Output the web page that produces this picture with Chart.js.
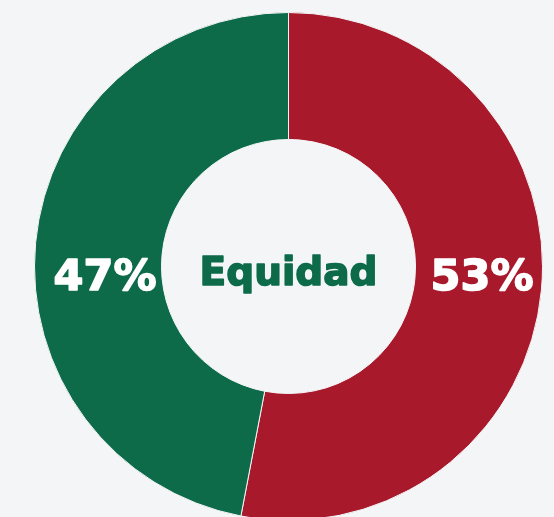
<!DOCTYPE html>
<html>
<head>
<meta charset="utf-8">
<script src="https://cdn.jsdelivr.net/npm/chart.js@4"></script>
<style>
    html, body { margin: 0; padding: 0; background: #f4f5f7; overflow: hidden; }
    #zone { position: absolute; left: 34px; top: 12px; width: 509px; height: 509px; }
</style>
</head>
<body>
<div id="zone"><canvas id="graphique-equidad"></canvas></div>
<script>
    // Données
    const categories = ["Hombres", "Mujeres"]
    const valeurs = [53, 47]
    const couleurs = ["#a8192b", "#0d6b4a"]
    const titreCentre = "Equidad"

    // Texte gras épaissi (la police d'origine est plus noire)
    function texteGras(ctx, texte, x, y, couleur) {
        ctx.fillStyle = couleur
        ctx.strokeStyle = couleur
        ctx.lineWidth = 1.6
        ctx.lineJoin = "round"
        ctx.fillText(texte, x, y)
        ctx.strokeText(texte, x, y)
    }

    // Textes : pourcentages sur l'anneau + titre au centre
    const textes = {
        id: "textes",
        afterDatasetsDraw(chart) {
            const ctx = chart.ctx
            const arc = chart.getDatasetMeta(0).data[0]
            const cx = arc.x
            const cy = arc.y
            const milieu = (arc.innerRadius + arc.outerRadius) / 2
            const total = valeurs.reduce((a, b) => a + b, 0)

            ctx.save()
            ctx.textAlign = "center"
            ctx.textBaseline = "alphabetic"
            ctx.font = "bold 43px 'DejaVu Sans'"
            // premier segment à droite, second à gauche
            texteGras(ctx, Math.round(valeurs[0] / total * 100) + "%", cx + milieu + 3, cy + 23, "#ffffff")
            texteGras(ctx, Math.round(valeurs[1] / total * 100) + "%", cx - milieu + 7, cy + 23, "#ffffff")

            ctx.font = "bold 39px 'DejaVu Sans'"
            texteGras(ctx, titreCentre, cx, cy + 18, couleurs[1])
            ctx.restore()
        }
    }

    const data = {
        labels: categories,
        datasets: [{
            data: valeurs,
            backgroundColor: couleurs,
            borderColor: "#f4f5f7",
            borderWidth: 1,
        }],
    }

    const config = {
        type: "doughnut",
        data: data,
        options: {
            responsive: true,
            maintainAspectRatio: false,
            animation: false,
            cutout: "50%",
            layout: { padding: 0 },
            plugins: {
                legend: { display: false },
                tooltip: { enabled: false },
            },
        },
        plugins: [textes],
    }

    // eslint-disable-next-line no-undef
    const graphiqueEquidad = new Chart(
        document.querySelector("#graphique-equidad"),
        config,
    )
</script>
</body>
</html>
